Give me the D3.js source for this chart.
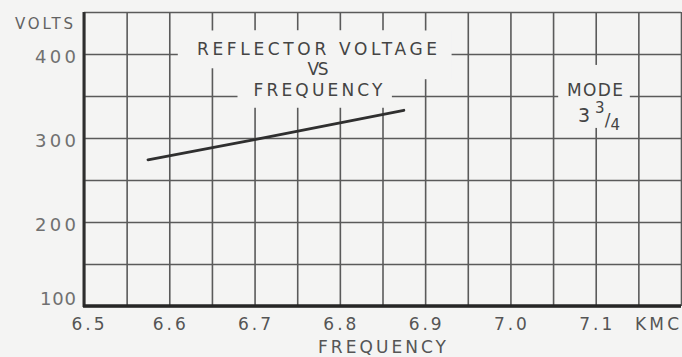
<!DOCTYPE html>
<html>
<head>
<meta charset="utf-8">
<script src="https://cdn.jsdelivr.net/npm/d3@7"></script>
<style>
  html, body { margin: 0; padding: 0; background: #f4f4f3; }
  svg { display: block; }
  text { font-family: "DejaVu Sans", sans-serif; }
</style>
</head>
<body>
<svg id="chart" width="682" height="357"></svg>
<script>
// Reflector voltage vs frequency, mode 3 3/4
const freq = [6.575, 6.7, 6.875];          // KMC
const volts = [274, 298, 333];             // V

const xTickValues = [6.5, 6.6, 6.7, 6.8, 6.9, 7.0, 7.1];
const xTickLabels = ["6.5", "6.6", "6.7", "6.8", "6.9", "7.0", "7.1"];
const yTickValues = [100, 200, 300, 400];
const yTickLabels = ["100", "200", "300", "400"];

const bg = "#f4f4f3";
const svg = d3.select("#chart");
const plotL = 84, plotR = 681, plotT = 12, plotB = 306;

const x = d3.scaleLinear().domain([6.5, 7.2]).range([plotL, plotR]);
const y = d3.scaleLinear().domain([100, 450]).range([plotB, plotT]);

// grid: every 0.05 KMC and every 50 V
const xGrid = d3.range(0, 15).map(i => +(6.5 + i * 0.05).toFixed(2));
const yGrid = d3.range(0, 8).map(i => 100 + i * 50);

svg.append("g")
  .attr("transform", `translate(0,${plotB})`)
  .call(d3.axisBottom(x).tickValues(xGrid).tickSize(-(plotB - plotT)).tickFormat(""))
  .call(g => g.select(".domain").remove())
  .call(g => g.selectAll(".tick line").attr("stroke", "#5a5a5a").attr("stroke-width", 1.6));

svg.append("g")
  .attr("transform", `translate(${plotL},0)`)
  .call(d3.axisLeft(y).tickValues(yGrid).tickSize(-(plotR - plotL)).tickFormat(""))
  .call(g => g.select(".domain").remove())
  .call(g => g.selectAll(".tick line").attr("stroke", "#5a5a5a").attr("stroke-width", 1.6));

// white-out panels behind the lettering (data units)
const panels = [
  [6.610, 6.931, 428, 383],
  [6.680, 6.861, 428, 336],
  [6.861, 6.931, 384, 370],
  [7.056, 7.140, 387, 312]
];
svg.append("g").selectAll("rect").data(panels).join("rect")
  .attr("x", d => x(d[0])).attr("width", d => x(d[1]) - x(d[0]))
  .attr("y", d => y(d[2])).attr("height", d => y(d[3]) - y(d[2]))
  .attr("fill", bg);

// heavy frame on the left and bottom
svg.append("line").attr("x1", plotL).attr("x2", plotL).attr("y1", plotT).attr("y2", plotB + 1)
  .attr("stroke", "#2e2e2e").attr("stroke-width", 3);
svg.append("line").attr("x1", plotL - 1).attr("x2", plotR).attr("y1", plotB).attr("y2", plotB)
  .attr("stroke", "#262626").attr("stroke-width", 3.5);

// curve
const line = d3.line().x((d, i) => x(freq[i])).y((d, i) => y(volts[i]));
svg.append("path").datum(freq).attr("d", line)
  .attr("fill", "none").attr("stroke", "#2f2f2f").attr("stroke-width", 2.8)
  .attr("stroke-linecap", "round");

// x tick labels
const xLab = svg.append("g").attr("fill", "#555").attr("font-size", 17);
xTickValues.forEach((v, i) => {
  xLab.append("text")
    .attr("x", x(v) + (i === 0 ? 4 : 0)).attr("y", 330)
    .attr("text-anchor", "middle")
    .attr("textLength", 33).attr("lengthAdjust", "spacing")
    .text(xTickLabels[i]);
});
xLab.append("text").attr("x", 657).attr("y", 330).attr("text-anchor", "middle")
  .attr("textLength", 44).attr("lengthAdjust", "spacing").text("KMC");
xLab.append("text").attr("x", 382).attr("y", 353).attr("text-anchor", "middle")
  .attr("textLength", 128).attr("lengthAdjust", "spacing").text("FREQUENCY");

// y tick labels
const yLab = svg.append("g").attr("fill", "#707070").attr("font-size", 18);
yTickValues.forEach((v, i) => {
  const cy = Math.min(y(v) + 3, y(100) - 7);
  yLab.append("text")
    .attr("x", 76).attr("y", cy).attr("dy", "0.36em")
    .attr("text-anchor", "end")
    .attr("textLength", i === 0 ? 36 : 41).attr("lengthAdjust", "spacing")
    .text(yTickLabels[i]);
});
svg.append("text").attr("x", 15).attr("y", 29).attr("fill", "#626262").attr("font-size", 15)
  .attr("textLength", 58).attr("lengthAdjust", "spacing").text("VOLTS");

// title
const title = svg.append("g").attr("fill", "#444").attr("font-size", 17).attr("text-anchor", "middle");
title.append("text").attr("x", 317).attr("y", 55).attr("textLength", 240).attr("lengthAdjust", "spacing")
  .text("REFLECTOR VOLTAGE");
title.append("text").attr("x", 318).attr("y", 75).attr("textLength", 21).attr("lengthAdjust", "spacing")
  .text("VS");
title.append("text").attr("x", 318).attr("y", 96).attr("textLength", 129).attr("lengthAdjust", "spacing")
  .text("FREQUENCY");

// mode annotation
const mode = svg.append("g").attr("fill", "#444");
mode.append("text").attr("x", 595).attr("y", 96).attr("font-size", 17).attr("text-anchor", "middle")
  .attr("textLength", 56).attr("lengthAdjust", "spacing").text("MODE");
const frac = mode.append("text").attr("x", 578).attr("y", 122).attr("font-size", 19);
frac.append("tspan").text("3");
frac.append("tspan").attr("dx", 5).attr("dy", -9).attr("font-size", 15).text("3");
frac.append("tspan").attr("dy", 13).attr("font-size", 17).text("/");
frac.append("tspan").attr("dy", 4).attr("font-size", 15).text("4");
</script>
</body>
</html>
